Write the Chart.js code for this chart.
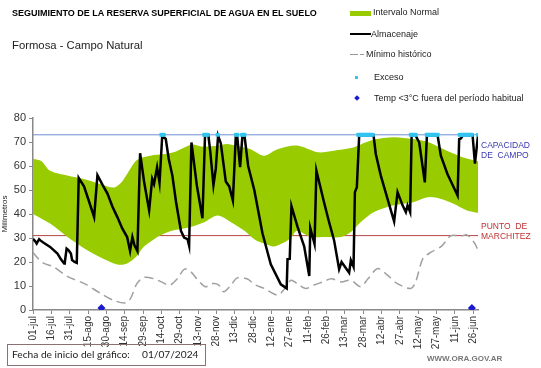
<!DOCTYPE html>
<html>
<head>
<meta charset="utf-8">
<script src="https://cdn.jsdelivr.net/npm/chart.js@4"></script>
<style>
  body { margin: 0; background: #fff; font-family: Arial, "Liberation Sans", sans-serif; }
  #wrap { position: relative; width: 541px; height: 368px; overflow: hidden; }
  #chart { position: absolute; left: 0; top: 0; }
  .t { position: absolute; white-space: nowrap; line-height: 1; }
  .sw { position: absolute; }
</style>
</head>
<body>
<div id="wrap">
  <canvas id="chart" width="541" height="368"></canvas>

  <div class="t" style="left:12px; top:9px; font-size:9px; font-weight:bold; color:#000;">SEGUIMIENTO DE LA RESERVA SUPERFICIAL DE AGUA EN EL SUELO</div>
  <div class="t" style="left:12px; top:40px; font-size:11.3px; color:#222;">Formosa - Campo Natural</div>

  <!-- leyenda -->
  <div class="sw" style="left:350px; top:11px; width:21px; height:5px; background:#99cc00;"></div>
  <div class="t" style="left:373px; top:8px; font-size:9px; color:#222;">Intervalo Normal</div>
  <div class="sw" style="left:350px; top:33px; width:21px; height:2px; background:#000;"></div>
  <div class="t" style="left:371px; top:30px; font-size:9px; color:#222;">Almacenaje</div>
  <div class="sw" style="left:350px; top:54px; width:8px; height:1px; background:#999;"></div>
  <div class="sw" style="left:360px; top:54px; width:4px; height:1px; background:#999;"></div>
  <div class="t" style="left:366px; top:50px; font-size:9px; color:#222;">Mínimo histórico</div>
  <div class="sw" style="left:355px; top:76px; width:3px; height:3px; background:#33c4ee;"></div>
  <div class="t" style="left:374px; top:73px; font-size:9px; color:#222;">Exceso</div>
  <div class="sw" style="left:355px; top:96px; width:4px; height:4px; background:#1a1ad0; transform:rotate(45deg);"></div>
  <div class="t" style="left:374px; top:94px; font-size:9px; color:#222;">Temp &lt;3°C fuera del período habitual</div>

  <!-- anotaciones a la derecha -->
  <div class="t" style="left:481px; top:141px; font-size:8.5px; color:#3838b0;">CAPACIDAD</div>
  <div class="t" style="left:481px; top:151px; font-size:8.5px; color:#3838b0;">DE&nbsp; CAMPO</div>
  <div class="t" style="left:481px; top:222px; font-size:8.5px; color:#c03030;">PUNTO&nbsp; DE</div>
  <div class="t" style="left:481px; top:232px; font-size:8.5px; color:#c03030;">MARCHITEZ</div>

  <!-- pie -->
  <div style="position:absolute; left:7px; top:344px; width:199px; height:22px; border:1px solid #8a7272; box-sizing:border-box;"></div>
  <div class="t" style="left:12px; top:349px; font-size:10.2px; font-family:Lato, 'Open Sans', sans-serif; color:#222;">Fecha de inicio del gráfico:</div>
  <div class="t" style="left:142px; top:349px; font-size:10.2px; font-family:Lato, 'Open Sans', sans-serif; color:#222;">01/07/2024</div>
  <div class="t" style="left:427px; top:355px; font-size:8px; font-weight:bold; color:#777;">WWW.ORA.GOV.AR</div>
</div>

<script>
// Ejes
const tickDias = [0, 15, 30, 45, 60, 75, 90, 105, 120, 135, 150, 165, 180, 195, 210, 225, 240, 255, 270, 285, 300, 315, 330, 345, 360];
const tickLabels = ['01-jul', '16-jul', '31-jul', '15-ago', '30-ago', '14-sep', '29-sep', '14-oct', '29-oct', '13-nov',
    '28-nov', '13-dic', '28-dic', '12-ene', '27-ene', '11-feb', '26-feb', '13-mar', '28-mar', '12-abr',
    '27-abr', '12-may', '27-may', '11-jun', '26-jun'];

// Umbrales (mm)
const capacidadCampo = 73;
const puntoMarchitez = 31;

// Intervalo normal: límite superior e inferior (día desde 01/07/2024, mm)
const supDias = [0, 7, 14, 28, 42, 55, 66, 72, 78, 85, 96, 108, 115, 123, 130, 140, 151, 159, 170, 178, 189, 200, 216, 233, 246, 260, 268, 279, 295, 311, 323, 336, 345, 352, 364];
const supValores = [63, 62, 58, 56, 54.5, 52.5, 51, 53, 57.5, 62.5, 64.3, 65, 65.7, 67.5, 69, 68, 68.5, 69.2, 68, 67, 64.3, 67, 68.5, 65.7, 66.4, 67.5, 69, 71, 72, 71.2, 70, 67, 65, 63.5, 62];
const infDias = [0, 14, 28, 42, 55, 69, 77, 85, 90, 96, 104, 115, 129, 140, 151, 162, 173, 181, 190, 197, 205, 211, 216, 227, 238, 252, 260, 268, 279, 295, 311, 323, 334, 344, 355, 364];
const infValores = [40, 36, 30.5, 25.6, 22, 19, 19.4, 22.5, 26, 28.4, 31, 33.2, 34.6, 36.6, 39.4, 36.6, 33, 29.5, 27.5, 26.5, 28, 30, 33, 30.4, 30.4, 30.4, 32.5, 36.6, 40.8, 43.6, 44.9, 47, 46.3, 44.3, 41.5, 40.5];

// Mínimo histórico
const minDias = [0, 5, 9, 17, 28, 42, 55, 66, 76, 80, 85, 91, 99, 105, 112, 118, 124, 129, 134, 141, 147, 152, 156, 162, 167, 175, 182, 189, 200, 205, 211, 216, 223, 230, 237, 244, 252, 260, 268, 274, 282, 290, 298, 309, 313, 319, 326, 334, 342, 350, 355, 361, 364];
const minValores = [24, 21, 19.4, 18, 14, 11, 7, 4, 3, 5, 11, 13.6, 13, 11.7, 10.4, 13, 17, 16, 13, 9.7, 11, 10.4, 7.6, 10.4, 13.4, 13, 10.4, 9, 6.2, 8.3, 12.4, 11, 9, 10.4, 11.7, 13, 11.7, 12.4, 9.7, 13, 17.3, 14.5, 11, 9, 11.7, 21.5, 24.2, 26.5, 31, 30.8, 31.3, 28, 25];

// Almacenaje observado
const almDias = [0, 2, 3, 5, 6, 9, 14, 20, 23, 25.5, 26, 27.5, 29, 31, 32, 34, 35.8, 37.4, 41.7, 46, 50, 52.7, 57, 61, 65, 69, 73, 77, 79.4, 81.3, 83, 85.4, 87.6, 91, 95, 97.5, 99, 101.5, 103.5, 105.7, 107, 108.6, 111, 114, 117, 121, 123.6, 126.4, 127.7, 129.6, 134, 138.6, 140.7, 143.5, 145, 147.6, 149.5, 151.4, 153.6, 157.7, 160.5, 163.5, 165.9, 167, 169.4, 171.3, 173, 176, 181, 187.7, 194.5, 202.7, 207.5, 208.2, 210, 211.4, 216.4, 221.8, 226, 226.8, 230.3, 231.8, 238, 242, 246.3, 250.4, 252.4, 258.6, 260, 262.2, 263.3, 264.9, 266.8, 278.6, 280.4, 284.5, 290, 295.4, 298.2, 302.3, 305, 306.4, 308.5, 309.7, 313, 315.9, 320.5, 322.2, 331, 333.6, 339, 347.3, 348.6, 350, 351.4, 359.6, 361.5, 364];
const almValores = [29.7, 28.5, 27.7, 29.5, 29, 27.9, 26.3, 23.5, 21, 19.4, 19.8, 25.6, 25, 23.5, 20.8, 20, 19.6, 55, 51.5, 45, 38.7, 56.2, 52, 48.4, 43, 38.7, 34, 30.4, 24.6, 30.4, 27, 24.6, 65.3, 53, 41.5, 54.6, 52.5, 59.5, 53, 72.5, 72, 71.3, 63, 56, 45, 33, 30.2, 29.5, 26.8, 69.8, 52, 38.2, 72.6, 72.6, 66, 52, 58.8, 72.6, 69.5, 53.5, 51.5, 45.6, 72.6, 72.6, 59.5, 72.6, 72.6, 60, 50, 32, 19, 10.7, 9, 21.2, 21.3, 43.3, 34.6, 26.5, 14.2, 34.2, 27.5, 58.1, 45, 37, 29, 17, 20, 15.5, 20.7, 18, 49.1, 51.2, 72.6, 72.6, 65, 56, 46.3, 36.9, 49.1, 43.6, 40.8, 43.6, 40.8, 72.6, 72.6, 69.8, 53.2, 72.6, 72.6, 64.3, 56.7, 47.7, 71.2, 71.5, 72.6, 72.6, 61, 72.6];

// Días con exceso (almacenaje en capacidad de campo)
const excesoDias = [105, 106, 107, 140, 141, 142, 143, 151, 166, 167, 171, 172, 173,
    266, 267, 268, 269, 270, 271, 272, 273, 274, 275, 276, 277, 278,
    309, 310, 311, 312, 313, 322, 323, 324, 325, 326, 327, 328, 329, 330, 331,
    349, 350, 351, 352, 353, 354, 355, 356, 357, 358, 359, 364];

// Temperatura <3°C fuera del período habitual
const tempDias = [56, 359];
const tempValor = 0.8;

const toPoints = (dias, valores) => dias.map((d, i) => ({ x: d, y: valores[i] }));

const ctx = document.getElementById('chart').getContext('2d');
new Chart(ctx, {
    type: 'line',
    data: {
        datasets: [
            {
                label: 'inferior',
                data: toPoints(infDias, infValores),
                borderWidth: 0,
                pointRadius: 0,
                fill: false,
                tension: 0.3,
                order: 7
            },
            {
                label: 'Intervalo Normal',
                data: toPoints(supDias, supValores),
                borderWidth: 0,
                pointRadius: 0,
                backgroundColor: '#99cc00',
                fill: '-1',
                tension: 0.3,
                order: 6
            },
            {
                label: 'Capacidad de campo',
                data: [{ x: 0, y: capacidadCampo }, { x: 364, y: capacidadCampo }],
                borderColor: '#6f8fd6',
                borderWidth: 1,
                pointRadius: 0,
                order: 8
            },
            {
                label: 'Punto de marchitez',
                data: [{ x: 0, y: puntoMarchitez }, { x: 364, y: puntoMarchitez }],
                borderColor: '#b84545',
                borderWidth: 1,
                pointRadius: 0,
                order: 8
            },
            {
                label: 'Mínimo histórico',
                data: toPoints(minDias, minValores),
                borderColor: '#a0a0a0',
                borderWidth: 1.5,
                borderDash: [9, 5],
                pointRadius: 0,
                tension: 0.3,
                order: 4
            },
            {
                label: 'Almacenaje',
                data: toPoints(almDias, almValores),
                borderColor: '#000',
                borderWidth: 2.5,
                pointRadius: 0,
                order: 3
            },
            {
                label: 'Exceso',
                data: excesoDias.map(d => ({ x: d, y: capacidadCampo })),
                showLine: false,
                pointStyle: 'rect',
                pointRadius: 2.7,
                pointBackgroundColor: '#33c4ee',
                pointBorderWidth: 0,
                order: 1
            },
            {
                label: 'Temp <3°C fuera del período habitual',
                data: tempDias.map(d => ({ x: d, y: tempValor })),
                showLine: false,
                pointStyle: 'rectRot',
                pointRadius: 4,
                pointBackgroundColor: '#1a1ad0',
                pointBorderWidth: 0,
                order: 0
            }
        ]
    },
    options: {
        responsive: false,
        animation: false,
        layout: { padding: { left: 0, right: 63, top: 118, bottom: 0 } },
        plugins: {
            legend: { display: false },
            tooltip: { enabled: false }
        },
        scales: {
            x: {
                type: 'linear',
                min: 0,
                max: 364,
                afterBuildTicks: (scale) => {
                    scale.ticks = tickDias.map(v => ({ value: v }));
                },
                afterFit: (scale) => { scale.height = 58; },
                grid: { drawOnChartArea: false, tickLength: 4, color: '#888' },
                border: { color: '#888', width: 1.5 },
                ticks: {
                    autoSkip: false,
                    maxRotation: 90,
                    minRotation: 90,
                    padding: 2,
                    color: '#333',
                    font: { family: 'Arial', size: 10 },
                    callback: (value) => tickLabels[tickDias.indexOf(value)]
                }
            },
            y: {
                min: 0,
                max: 80,
                afterFit: (scale) => { scale.width = 33; },
                grid: { drawOnChartArea: false, tickLength: 4, color: '#888' },
                border: { color: '#888', width: 1.5 },
                ticks: {
                    stepSize: 10,
                    padding: 3,
                    color: '#333',
                    font: { family: 'Arial', size: 11 }
                },
                title: {
                    display: true,
                    text: 'Milímetros',
                    color: '#222',
                    padding: 0,
                    font: { family: 'Arial', size: 8 }
                }
            }
        }
    }
});
</script>
</body>
</html>
